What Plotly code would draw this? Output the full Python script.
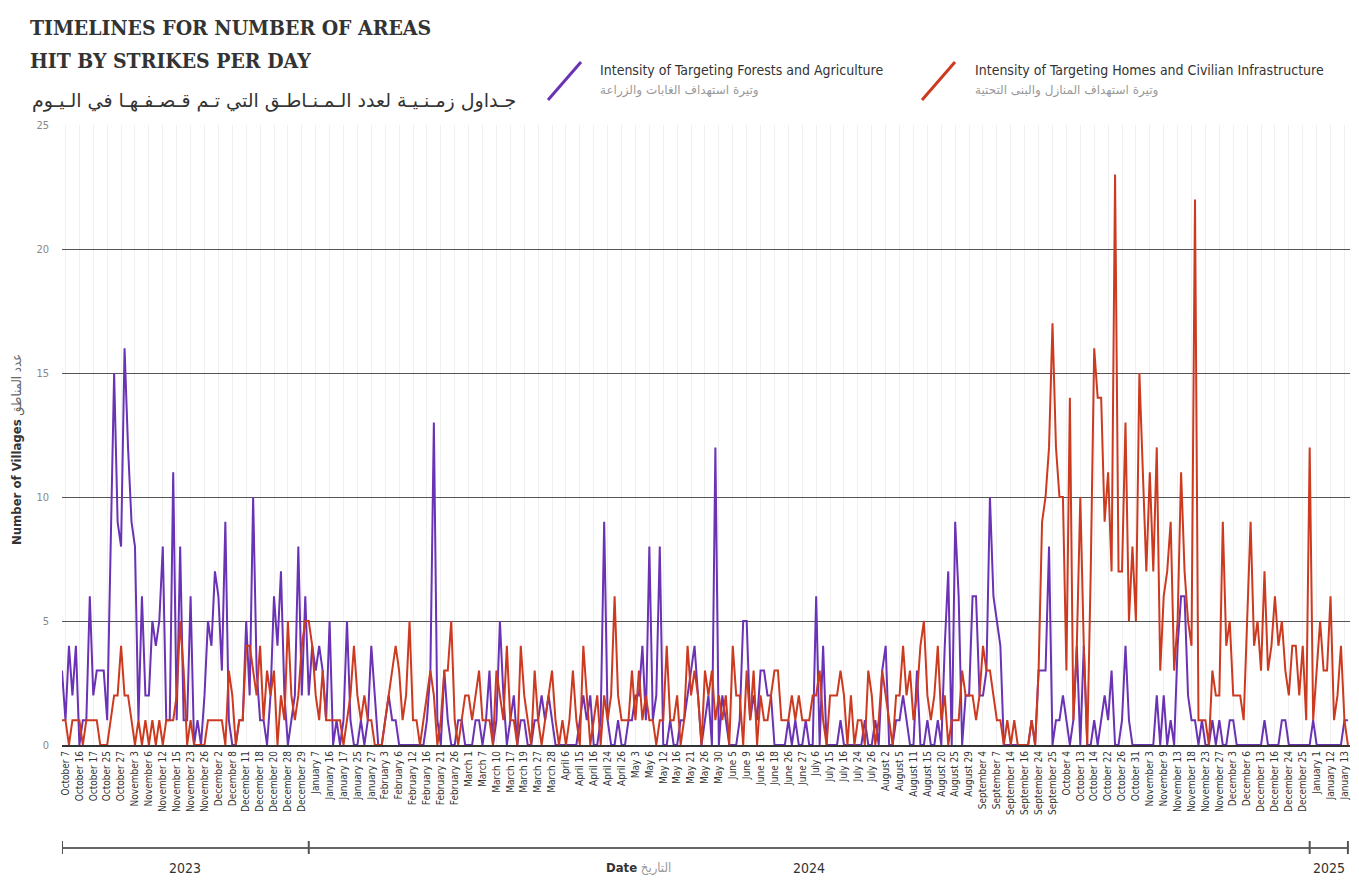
import plotly.graph_objects as go

tick_labels = [
    "October 7", "October 16", "October 17", "October 25", "October 27", "November 3",
    "November 6", "November 12", "November 15", "November 23", "November 26", "December 2",
    "December 8", "December 11", "December 18", "December 20", "December 28", "December 29",
    "January 7", "January 16", "January 17", "January 25", "January 27", "February 3",
    "February 6", "February 12", "February 16", "February 21", "February 26", "March 1",
    "March 7", "March 10", "March 17", "March 19", "March 27", "March 28", "April 6",
    "April 15", "April 16", "April 24", "April 26", "May 3", "May 6", "May 12", "May 16",
    "May 21", "May 26", "May 30", "June 5", "June 9", "June 16", "June 18", "June 26",
    "June 27", "July 6", "July 15", "July 16", "July 24", "July 26", "August 2", "August 5",
    "August 11", "August 15", "August 20", "August 25", "August 29", "September 4",
    "September 7", "September 14", "September 16", "September 24", "September 25",
    "October 4", "October 13", "October 14", "October 22", "October 26", "October 31",
    "November 3", "November 9", "November 13", "November 18", "November 23", "November 27",
    "December 3", "December 6", "December 13", "December 16", "December 24", "December 25",
    "January 1", "January 12", "January 13",
]

forests = [
    3,1,4,2,4,0,1,1,6,2, 3,3,3,1,8,15,9,8,16,12, 9,8,1,6,2,2,5,4,5,8,
    1,1,11,1,8,1,1,6,0,1, 0,2,5,4,7,6,3,9,1,0, 0,1,1,5,2,10,3,1,1,0,
    2,6,4,7,2,0,1,2,8,2, 6,2,4,3,4,3,1,5,0,1, 0,1,5,1,0,0,1,0,1,4,
    2,0,0,1,2,1,1,0,0,0, 0,0,0,0,0,1,3,13,1,0, 3,1,0,0,1,1,0,0,0,1,
    1,0,1,3,0,1,5,2,0,1, 2,0,1,1,0,0,1,1,2,1, 2,1,0,0,0,0,0,0,0,1,
    2,1,2,0,0,1,9,1,0,0, 1,0,0,1,1,2,2,4,1,8, 1,2,8,0,0,1,0,0,1,1,
    2,3,4,2,0,1,2,0,12,0, 2,1,0,0,0,1,5,5,1,2, 1,3,3,2,2,0,0,0,0,1,
    0,1,0,0,1,0,0,6,0,4, 0,0,0,0,1,0,0,0,0,0, 0,1,0,0,1,0,3,4,0,0,
    1,1,2,1,0,0,3,0,0,1, 0,0,1,0,4,7,0,9,6,0, 2,2,6,6,2,2,3,10,6,5,
    4,0,0,0,0,0,0,0,0,1, 0,3,3,3,8,0,1,1,2,1, 0,1,4,0,4,0,0,1,0,1,
    2,1,3,0,0,1,4,1,0,0, 0,0,0,0,0,2,0,2,0,1, 0,4,6,6,2,1,1,0,1,0,
    0,1,0,1,0,0,1,1,0,0, 0,0,0,0,0,0,1,0,0,0, 0,1,1,0,0,0,0,0,0,0,
    1,0,0,0,0,0,0,0,0,1, 1,
]

homes = [
    1,1,0,1,1,1,0,1,1,1, 1,0,0,0,1,2,2,4,2,2, 1,0,1,0,1,0,1,0,1,0,
    1,1,1,2,5,3,0,1,0,0, 0,0,1,1,1,1,1,0,3,2, 0,1,1,4,4,3,2,4,1,3,
    2,3,0,2,1,5,2,1,2,4, 5,5,4,2,1,3,1,1,1,1, 1,0,1,2,4,2,1,2,1,1,
    0,0,0,1,2,3,4,3,1,2, 5,1,1,0,1,2,3,2,0,1, 3,3,5,1,0,1,2,2,1,2,
    3,1,1,1,0,3,2,1,4,1, 1,0,4,2,1,0,3,1,0,1, 2,3,1,0,1,0,1,3,1,0,
    4,2,0,1,2,0,2,1,2,6, 2,1,1,1,3,1,3,1,2,1, 1,0,1,1,4,1,1,2,0,1,
    4,2,3,2,0,3,2,3,1,2, 1,2,0,4,2,2,0,3,1,3, 0,2,1,1,2,3,3,1,1,1,
    2,1,2,1,1,1,2,2,3,1, 0,2,2,2,3,2,0,2,0,1, 1,0,3,2,0,1,3,2,1,0,
    2,2,4,2,3,1,2,4,5,2, 1,2,4,1,2,0,1,1,1,3, 2,2,2,1,2,4,3,3,2,1,
    1,0,1,0,1,0,0,0,0,1, 0,3,9,10,12,17,12,10,10,3, 14,1,4,10,4,0,7,16,14,14,
    9,11,7,23,7,7,13,5,8,5, 15,11,7,11,7,12,3,6,7,9, 3,5,11,7,5,4,22,1,1,1,
    0,3,2,2,9,4,5,2,2,2, 1,5,9,4,5,3,7,3,4,6, 4,5,3,2,4,4,2,4,1,12,
    1,3,5,3,3,6,1,2,4,1, 0,
]

year_labels = ["2023", "2024", "2025"]
series_names = ["Intensity of Targeting Forests and Agriculture",
                "Intensity of Targeting Homes and Civilian Infrastructure"]
series_names_ar = ["وتيرة استهداف الغابات والزراعة",
                   "وتيرة استهداف المنازل والبنى التحتية"]

PURPLE = "#6a32b4"
RED = "#cc3a20"
NARROW = "Liberation Sans Narrow, DejaVu Sans Condensed, Roboto, sans-serif"
SLAB = "DejaVu Serif Condensed, DejaVu Serif, serif"

idx = list(range(len(forests)))
tickvals = [1 + 4 * k for k in range(len(tick_labels))]

fig = go.Figure()
fig.add_trace(go.Scatter(x=idx, y=forests, mode="lines", name=series_names[0],
                         line=dict(color=PURPLE, width=2), showlegend=False))
fig.add_trace(go.Scatter(x=idx, y=homes, mode="lines", name=series_names[1],
                         line=dict(color=RED, width=2), showlegend=False))

L, R, T, B = 62, 9, 125, 139
W, H = 1359, 884
PW, PH = W - L - R, H - T - B

def px(xp):
    return (xp - L) / PW

def py(yp):
    return (H - B - yp) / PH

fig.update_layout(
    width=W, height=H,
    margin=dict(l=L, r=R, t=T, b=B),
    paper_bgcolor="white", plot_bgcolor="white",
    xaxis=dict(range=[0, 370.6], tickmode="array", tickvals=tickvals, ticktext=tick_labels,
               tickangle=-90, tickfont=dict(family=NARROW, size=10, color="#333"),
               showgrid=True, gridcolor="#f0f0f0", gridwidth=1,
               showline=True, linecolor="#333", linewidth=2, ticks="", zeroline=False),
    yaxis=dict(range=[0, 25], tickvals=[0, 5, 10, 15, 20, 25],
               tickfont=dict(family=NARROW, size=11, color="#888"),
               showgrid=True, gridcolor="#555", gridwidth=1, zeroline=False,
               showline=False, ticks="", ticklabelstandoff=12),
)

# bracket below the axis
fig.add_shape(type="line", xref="x", yref="paper", x0=0, x1=370,
              y0=py(848), y1=py(848), line=dict(color="#666", width=2))
for xb in [0, 71, 359, 370]:
    fig.add_shape(type="line", xref="x", yref="paper", x0=xb, x1=xb,
                  y0=py(841), y1=py(854), line=dict(color="#555", width=2))

year_pos = [35.5, 215, 364.5]
for yl, xp in zip(year_labels, year_pos):
    fig.add_annotation(text=yl, x=xp, xref="x", y=py(868), yref="paper",
                       xanchor="center", yanchor="middle",
                       showarrow=False, font=dict(family=NARROW, size=14, color="#333"))
fig.add_annotation(text="<b>Date</b> <span style='color:#999'>التاريخ</span>",
                   x=166, xref="x", y=py(868), yref="paper", xanchor="center", yanchor="middle",
                   showarrow=False, font=dict(family=NARROW, size=13, color="#333"))

# y-axis title
fig.add_annotation(text="<b>Number of Villages</b> <span style='color:#666'>عدد المناطق</span>",
                   x=px(17), xref="paper", y=py(450), yref="paper", textangle=-90,
                   xanchor="center", yanchor="middle",
                   showarrow=False, font=dict(family=NARROW, size=13, color="#333"))

# titles
fig.add_annotation(text="<b>TIMELINES FOR NUMBER OF AREAS</b>", x=px(28), xref="paper",
                   y=py(28), yref="paper", xanchor="left", yanchor="middle", showarrow=False,
                   font=dict(family=SLAB, size=21, color="#333"))
fig.add_annotation(text="<b>HIT BY STRIKES PER DAY</b>", x=px(28), xref="paper",
                   y=py(61), yref="paper", xanchor="left", yanchor="middle", showarrow=False,
                   font=dict(family=SLAB, size=21, color="#333"))
fig.add_annotation(text="جـداول زمـنـيـة لعدد الـمـنـاطـق التي تـم قـصـفـهـا في الـيـوم",
                   x=px(30), xref="paper", y=py(100), yref="paper", xanchor="left",
                   yanchor="middle", showarrow=False,
                   font=dict(family="DejaVu Sans, sans-serif", size=19, color="#333"))

# legend
legend_items = [(PURPLE, 548, 598), (RED, 922, 973)]
for (col, sx, tx), name, name_ar in zip(legend_items, series_names, series_names_ar):
    fig.add_shape(type="line", xref="paper", yref="paper", x0=px(sx), x1=px(sx + 33),
                  y0=py(100), y1=py(62), line=dict(color=col, width=3))
    fig.add_annotation(text=name, x=px(tx), xref="paper", y=py(70), yref="paper",
                       xanchor="left", yanchor="middle", showarrow=False,
                       font=dict(family=NARROW, size=14, color="#333"))
    fig.add_annotation(text=name_ar, x=px(tx), xref="paper", y=py(91), yref="paper",
                       xanchor="left", yanchor="middle", showarrow=False,
                       font=dict(family="DejaVu Sans, sans-serif", size=12, color="#999"))

fig.write_html("out.html", config={"displayModeBar": False},
               post_script="document.body.style.margin='0';")
